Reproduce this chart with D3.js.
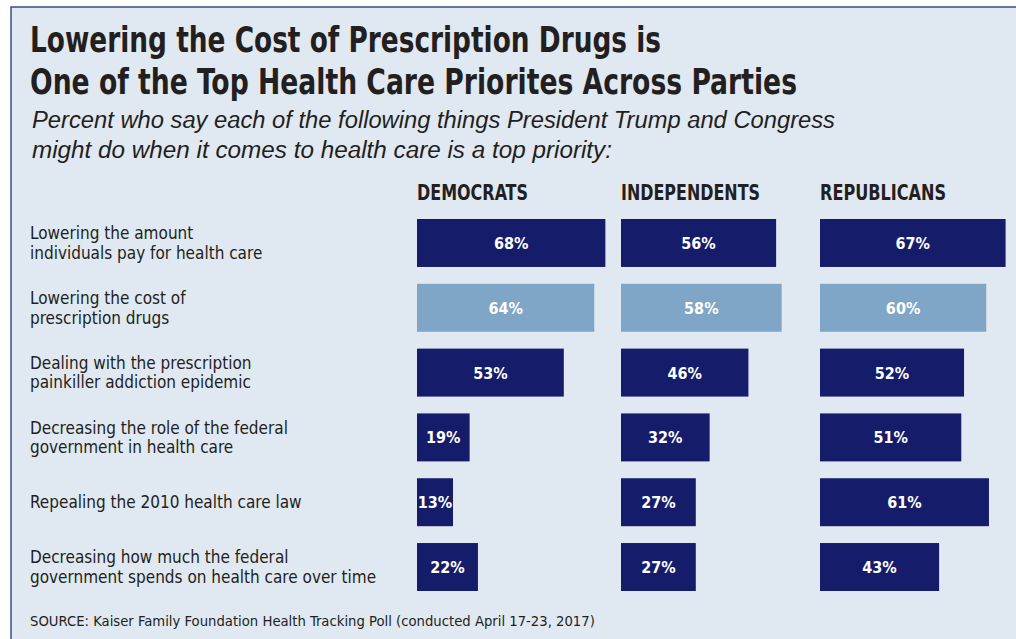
<!DOCTYPE html>
<html>
<head>
<meta charset="utf-8">
<script src="https://cdn.jsdelivr.net/npm/d3@7"></script>
<style>
  body { margin: 0; background: #fff; }
  svg { display: block; }
</style>
</head>
<body>
<div id="chart"></div>
<script>
// Chart data
var parties = ["DEMOCRATS", "INDEPENDENTS", "REPUBLICANS"];
var items = [
  ["Lowering the amount", "individuals pay for health care"],
  ["Lowering the cost of", "prescription drugs"],
  ["Dealing with the prescription", "painkiller addiction epidemic"],
  ["Decreasing the role of the federal", "government in health care"],
  ["Repealing the 2010 health care law"],
  ["Decreasing how much the federal", "government spends on health care over time"]
];
var democrats = [68, 64, 53, 19, 13, 22];
var independents = [56, 58, 46, 32, 27, 27];
var republicans = [67, 60, 52, 51, 61, 43];
var highlightRow = 1;

var titleLines = [
  "Lowering the Cost of Prescription Drugs is",
  "One of the Top Health Care Priorites Across Parties"
];
var subtitleLines = [
  "Percent who say each of the following things President Trump and Congress",
  "might do when it comes to health care is a top priority:"
];
var source = "SOURCE: Kaiser Family Foundation Health Tracking Poll (conducted April 17-23, 2017)";

function init() {
  var w = 1016, h = 639;
  var condensed = "'Liberation Sans Narrow', 'DejaVu Sans Condensed', 'Arial Narrow', sans-serif";

  var svg = d3.select("#chart").append("svg").attr("width", w).attr("height", h);

  // panel background with frame
  svg.append("rect").attr("x", 11).attr("y", 7).attr("width", w).attr("height", h)
    .attr("fill", "#e0e8f1").attr("stroke", "#3d4a85").attr("stroke-width", 1.5);

  // title + subtitle
  svg.selectAll("text.title").data(titleLines).enter().append("text")
    .attr("class", "title")
    .attr("x", 30).attr("y", (d, i) => 52 + i * 42)
    .attr("font-family", condensed).attr("font-weight", "bold")
    .attr("font-size", 36).attr("fill", "#231f20")
    .attr("textLength", (d, i) => [631, 767][i]).attr("lengthAdjust", "spacingAndGlyphs")
    .text(d => d);

  svg.selectAll("text.sub").data(subtitleLines).enter().append("text")
    .attr("class", "sub")
    .attr("x", 32).attr("y", (d, i) => 128 + i * 30)
    .attr("font-family", "'Liberation Sans', Arial, sans-serif").attr("font-style", "italic")
    .attr("font-size", 23).attr("fill", "#231f20")
    .attr("textLength", (d, i) => [803, 580][i]).attr("lengthAdjust", "spacingAndGlyphs")
    .text(d => d);

  // layout scales
  var colX = [417, 621, 820];
  var x = d3.scaleLinear().domain([0, 100]).range([0, 277]);
  var y = d3.scaleBand().domain(d3.range(items.length)).range([219, 591]).paddingInner(0.26).paddingOuter(0);

  // party headers
  svg.selectAll("text.party").data(parties).enter().append("text")
    .attr("class", "party")
    .attr("x", (d, i) => colX[i]).attr("y", 200)
    .attr("font-family", condensed).attr("font-weight", "bold")
    .attr("font-size", 21).attr("fill", "#231f20")
    .attr("textLength", (d, i) => [111, 139, 126][i]).attr("lengthAdjust", "spacingAndGlyphs")
    .text(d => d);

  // row labels
  var labels = svg.selectAll("g.lab").data(items).enter().append("g")
    .attr("class", "lab")
    .attr("transform", (d, i) => "translate(30," + (y(i) + y.bandwidth() / 2) + ")");
  labels.selectAll("text").data(d => d.map((t, j) => ({ t: t, j: j, n: d.length })))
    .enter().append("text")
    .attr("x", 0)
    .attr("y", d => (d.j - (d.n - 1) / 2) * 19.5 + 6)
    .attr("font-family", condensed).attr("font-size", 17).attr("fill", "#231f20")
    .text(d => d.t);

  // bars
  var series = [democrats, independents, republicans];
  series.forEach(function (vals, c) {
    var g = svg.append("g").attr("transform", "translate(" + colX[c] + ",0)");
    g.selectAll("rect").data(vals).enter().append("rect")
      .attr("x", 0).attr("y", (d, i) => y(i))
      .attr("width", d => x(d)).attr("height", y.bandwidth())
      .attr("fill", (d, i) => i === highlightRow ? "#7fa6c6" : "#151c6a");
    g.selectAll("text").data(vals).enter().append("text")
      .attr("x", d => x(d) / 2).attr("y", (d, i) => y(i) + y.bandwidth() / 2 + 6)
      .attr("text-anchor", "middle")
      .attr("font-family", condensed).attr("font-weight", "bold")
      .attr("font-size", 16).attr("fill", "#fff")
      .text(d => d + "%");
  });

  // source note
  svg.append("text").attr("x", 30).attr("y", 626)
    .attr("font-family", condensed).attr("font-size", 14.7).attr("fill", "#231f20")
    .text(source);
}

window.onload = init;
</script>
</body>
</html>
